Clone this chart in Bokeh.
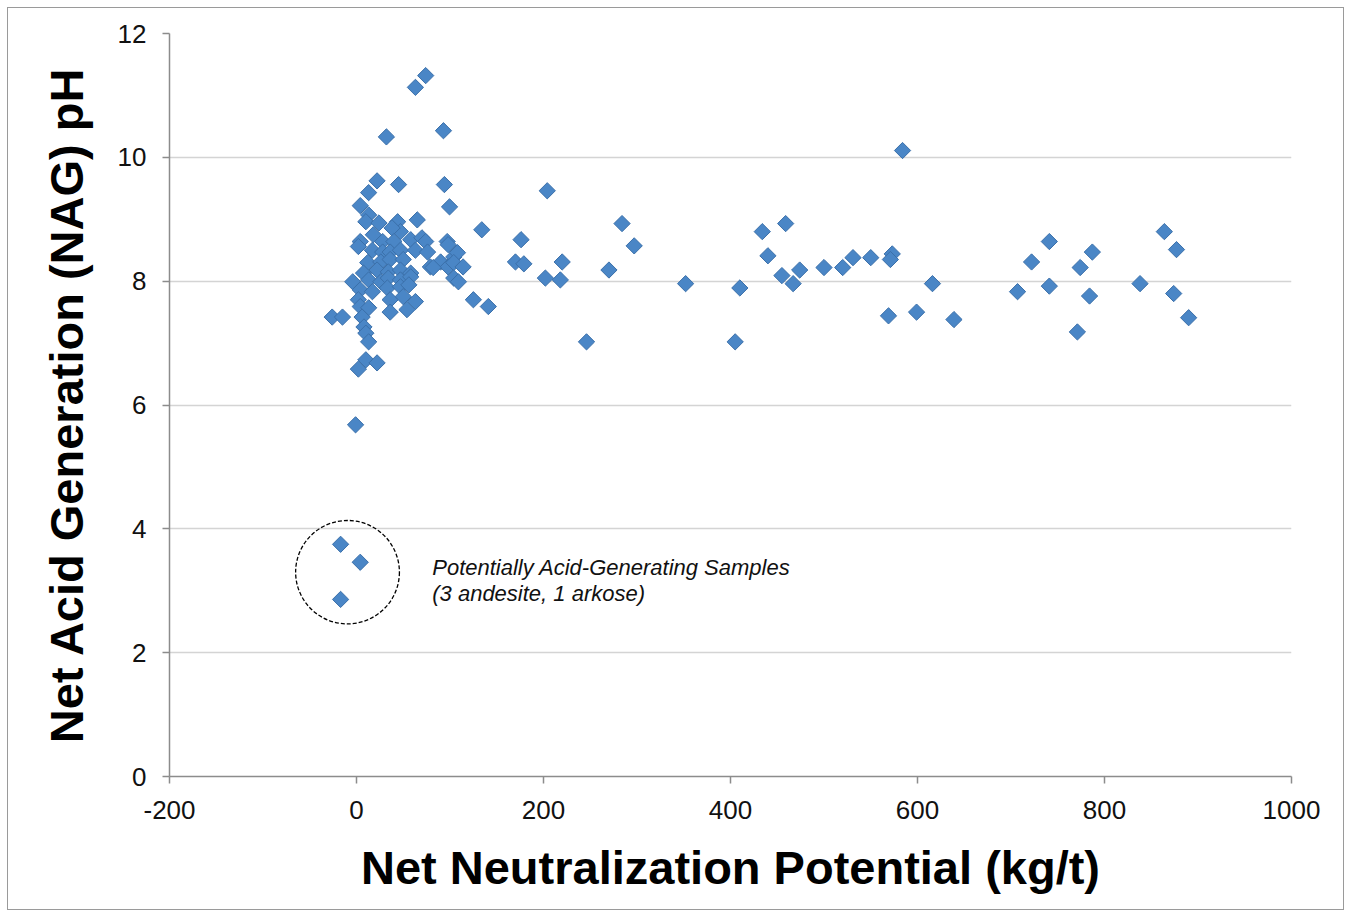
from bokeh.plotting import figure
from bokeh.models import Range1d, FixedTicker, Label
from bokeh.embed import file_html
from bokeh.resources import INLINE

# Net Neutralization Potential (kg/t)
nnp = [74, 63, 32, 93, 22, 45, 94, 13, 99.5, 4, 134, 65, 13, 10, 24, 44, 47, 38,
       4, 18, 28, 40, 58, 70, 74, 97, 98, 2, 17, 28, 36, 47, 63, 76, 104, 108,
       12, 26, 36, 50, 79, 90, 98, 104, 114, 7.5, 22, 34, 47, 58, 82,
       -4, 13, 26, 34, 47, 58, 104, 109, 4, 17, 33, 47, 56, 2, 36, 50, 63, 125, 141,
       4, 13, 36, 54, -26, -15, 6, 8, 10, 13, 10, 22, 2, -1, -17, 4, -17,
       204, 176, 170, 179, 202, 220, 218, 246, 270, 284, 297, 352, 410, 405,
       434, 440, 459, 455, 467, 474, 500, 520, 531, 550,
       584, 573, 571, 569, 616, 599, 639, 707, 722, 741, 741, 774, 787, 784, 771,
       838, 864, 877, 874, 890]
# NAG pH
nag = [11.32, 11.13, 10.33, 10.43, 9.62, 9.56, 9.56, 9.43, 9.2, 9.22, 8.83, 8.99, 9.07, 8.96, 8.94, 8.96, 8.8, 8.86,
       8.64, 8.75, 8.64, 8.64, 8.67, 8.7, 8.64, 8.64, 8.59, 8.56, 8.5, 8.47, 8.47, 8.5, 8.5, 8.47, 8.39, 8.46,
       8.3, 8.31, 8.35, 8.35, 8.23, 8.31, 8.23, 8.3, 8.23, 8.13, 8.18, 8.15, 8.18, 8.13, 8.22,
       7.99, 8.02, 7.99, 8.05, 8.02, 8.07, 8.05, 7.99, 7.86, 7.83, 7.89, 7.91, 7.94, 7.7, 7.7, 7.75, 7.67, 7.7, 7.59,
       7.59, 7.57, 7.5, 7.54, 7.42, 7.42, 7.42, 7.26, 7.16, 7.02, 6.73, 6.68, 6.58, 5.68, 3.75, 3.46, 2.86,
       9.46, 8.67, 8.31, 8.28, 8.05, 8.31, 8.02, 7.02, 8.18, 8.93, 8.57, 7.96, 7.89, 7.02,
       8.8, 8.41, 8.93, 8.09, 7.96, 8.18, 8.22, 8.22, 8.38, 8.38,
       10.11, 8.44, 8.35, 7.44, 7.96, 7.5, 7.38, 7.83, 8.31, 8.64, 7.92, 8.22, 8.47, 7.76, 7.18,
       7.96, 8.8, 8.51, 7.80, 7.41]

x_ticks = [-200, 0, 200, 400, 600, 800, 1000]
y_ticks = [0, 2, 4, 6, 8, 10, 12]
note_lines = ["Potentially Acid-Generating Samples", "(3 andesite, 1 arkose)"]

p = figure(width=1337, height=903, output_backend="svg", toolbar_location=None,
           x_range=Range1d(-200, 1000), y_range=Range1d(0, 12),
           min_border_left=161, min_border_right=54, min_border_top=25, min_border_bottom=135)
p.styles = {"border": "1px solid #9a9a9a", "margin-left": "7px", "margin-top": "7px"}
p.outline_line_color = None
p.background_fill_color = "white"

p.xgrid.visible = False
p.ygrid.grid_line_color = "#d4d4d4"
p.ygrid.grid_line_width = 1.5
p.ygrid.ticker = FixedTicker(ticks=y_ticks)

for ax in (p.xaxis[0], p.yaxis[0]):
    ax.axis_line_color = "#8c8c8c"
    ax.axis_line_width = 1.5
    ax.major_tick_line_color = "#8c8c8c"
    ax.major_tick_line_width = 1.5
    ax.major_tick_out = 7
    ax.major_tick_in = 0
    ax.minor_tick_line_color = None
    ax.major_label_text_font = "Liberation Sans"
    ax.major_label_text_font_size = "26px"
    ax.major_label_text_color = "#111111"
    ax.axis_label_text_font = "Liberation Sans"
    ax.axis_label_text_font_style = "bold"
    ax.axis_label_text_font_size = "47px"
    ax.axis_label_text_color = "#000000"

p.xaxis.ticker = FixedTicker(ticks=x_ticks)
p.yaxis.ticker = FixedTicker(ticks=y_ticks)
p.xaxis.major_label_overrides = {-200: "-200"}
p.xaxis.axis_label = "Net Neutralization Potential (kg/t)"
p.yaxis.axis_label = "Net Acid Generation (NAG) pH"
p.xaxis.major_label_standoff = 17
p.yaxis.major_label_standoff = 16
p.xaxis.axis_label_standoff = 19
p.yaxis.axis_label_standoff = 22

p.scatter(nnp, nag, marker="square", angle=0.785398, size=11.5, fill_color="#4a86c6",
          line_color="#3b70aa", line_width=1)

p.ellipse(x=[-9.6], y=[3.3], width=[111], height=[1.67], fill_color=None,
          line_color="black", line_width=1.3, line_dash="4 2")

for i, t in enumerate(note_lines):
    p.add_layout(Label(x=81, y=3.38 - 0.42 * i, text=t, text_font="Liberation Sans",
                       text_font_style="italic", text_font_size="22px",
                       text_baseline="middle", text_color="#111111"))

open("out.html", "w").write(file_html(p, INLINE))
